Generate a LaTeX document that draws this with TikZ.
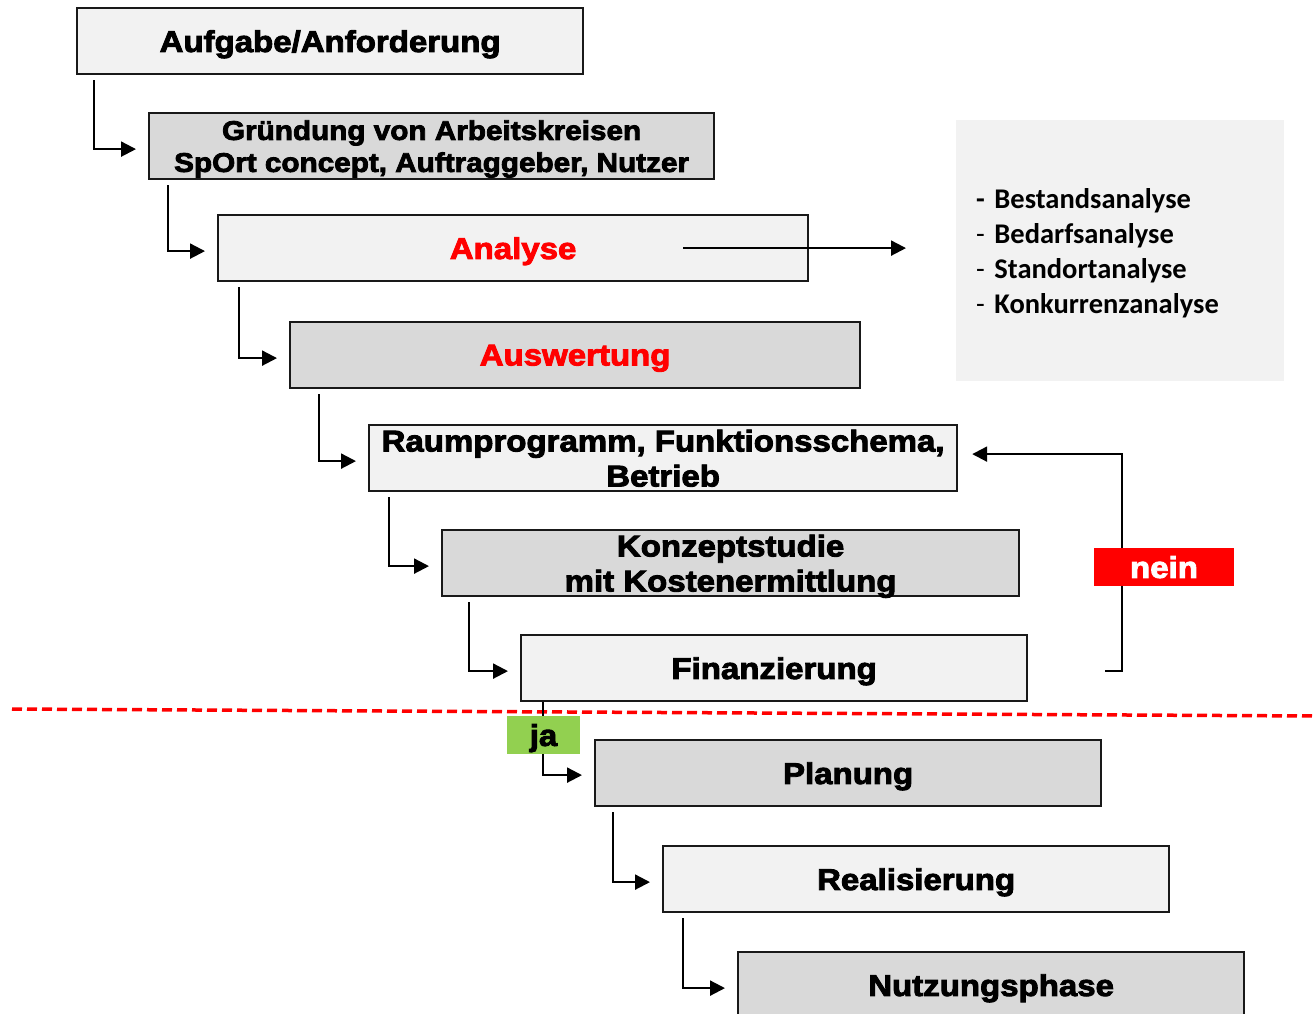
\documentclass[tikz,border=0pt]{standalone}
\usepackage{fontspec}
\setmainfont{Liberation Sans}[FakeStretch=1.1,BoldFeatures={FakeBold=3}]
\newfontfamily\listfont{Carlito}
\usetikzlibrary{arrows.meta}
\definecolor{hell}{HTML}{F2F2F2}
\definecolor{dunkel}{HTML}{D9D9D9}
\definecolor{jagruen}{HTML}{92D050}

\begin{document}
\begin{tikzpicture}[x=1pt,y=-1pt,>={Triangle[length=15pt,width=15pt]},
  phase/.style={draw=black!90,line width=2.2pt,minimum width=506pt,minimum height=66pt,
    inner sep=0pt,text depth=0pt,anchor=north west,align=center,font=\fontsize{30}{35}\selectfont\bfseries},
  hellbox/.style={phase,fill=hell},
  dunkelbox/.style={phase,fill=dunkel},
  pfeil/.style={->,line width=2.2pt},
  marke/.style={inner sep=0pt,text depth=0pt,font=\fontsize{30}{35}\selectfont\bfseries}]
\useasboundingbox (0,0) rectangle (1316,1013);

% Phasen
\node[hellbox] (aufgabe) at (76,7) {Aufgabe/Anforderung};
\node[dunkelbox,minimum width=565pt,font=\fontsize{27}{32}\selectfont\bfseries] (gruendung) at (148,112)
  {Gründung von Arbeitskreisen\\SpOrt concept, Auftraggeber, Nutzer};
\node[hellbox,minimum width=590pt,text=red] (analyse) at (217,214) {Analyse};
\node[dunkelbox,minimum width=570pt,text=red] (auswertung) at (289,321) {Auswertung};
\node[hellbox,minimum width=588pt] (raum) at (368,424) {Raumprogramm, Funktionsschema,\\Betrieb};
\node[dunkelbox,minimum width=577pt] (konzept) at (441,529) {Konzeptstudie\\mit Kostenermittlung};
\node[hellbox] (finanz) at (520,634) {Finanzierung};
\node[dunkelbox] (planung) at (594,739) {Planung};
\node[hellbox] (real) at (662,845) {Realisierung};
\node[dunkelbox] (nutzung) at (737,951) {Nutzungsphase};

% Analysefelder
\node[fill=hell,minimum width=328pt,minimum height=261pt,text width=288pt,inner xsep=20pt,
  align=left,anchor=north west,font=\listfont\fontsize{28.5}{35}\selectfont\bfseries] (liste) at (956,120)
  {- Bestandsanalyse\\{\mdseries -} Bedarfsanalyse\\{\mdseries -} Standortanalyse\\{\mdseries -} Konkurrenzanalyse\vspace*{-6pt}};
\draw[pfeil] ([xshift=170pt]analyse.center) -- ([xshift=-50pt]analyse.center -| liste.west);

% Verbindungen
\foreach \a/\b/\dx in {aufgabe/gruendung/18, gruendung/analyse/20, analyse/auswertung/22,
    auswertung/raum/30, raum/konzept/21, konzept/finanz/28, planung/real/19, real/nutzung/21}
  \draw[pfeil] ([xshift=\dx pt,yshift=-5pt]\a.south west) |- ([xshift=-12pt,yshift=-3pt]\b.west);

% Entscheidung
\draw[red,line width=3.5pt,dash pattern=on 10pt off 5pt] (12,709) -- (1316,716);
\draw[pfeil] ([xshift=23pt]finanz.south west) |- ([xshift=-12pt,yshift=-2pt]planung.west);
\node[marke,fill=jagruen,minimum width=73pt,minimum height=38pt] (ja) at (543.5,735) {ja};
\draw[pfeil] ([xshift=77pt,yshift=-3pt]finanz.east) -- ++(17pt,0) |- ([xshift=14pt,yshift=4pt]raum.east);
\node[marke,fill=red,text=white,minimum width=140pt,minimum height=38pt] (nein) at (1164,567) {nein};
\end{tikzpicture}
\end{document}
